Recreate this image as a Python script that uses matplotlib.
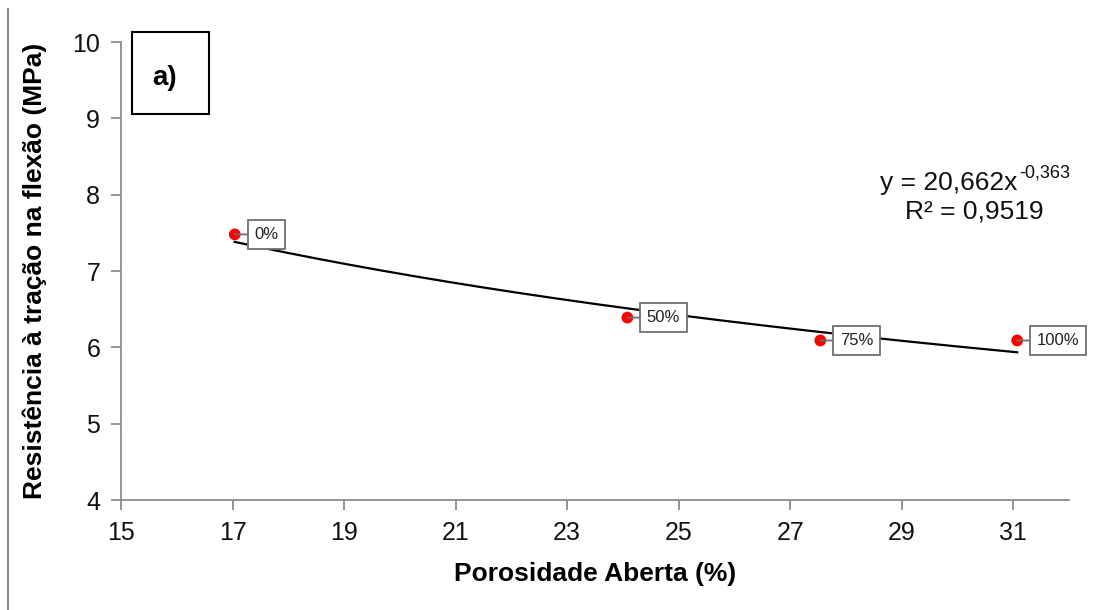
import matplotlib
matplotlib.use("Agg")
import matplotlib.pyplot as plt
from matplotlib.lines import Line2D
from matplotlib.patches import Rectangle
import numpy as np

plt.rcParams['font.family'] = ['Liberation Sans', 'DejaVu Sans']

# porosity (%) vs flexural tensile strength (MPa), by replacement level
porosidade = [17.04, 24.08, 27.54, 31.07]
resistencia = [7.48, 6.39, 6.09, 6.09]
rotulos = ['0%', '50%', '75%', '100%']

# power trend fitted to the points
coef_a = 20.662
coef_b = -0.363
r2 = 0.9519

x_ticks = [15, 17, 19, 21, 23, 25, 27, 29, 31]
y_ticks = [4, 5, 6, 7, 8, 9, 10]

fig = plt.figure(figsize=(11.18, 6.10), dpi=100)
ax = fig.add_axes([0.1082, 0.1803, 0.8480, 0.7508])

# trend line
xs = np.linspace(min(porosidade), max(porosidade), 200)
ax.plot(xs, coef_a * xs ** coef_b, color='black', lw=1.6, zorder=2)

# data points
ax.scatter(porosidade, resistencia, s=72, color='#ff0000', edgecolors='none', zorder=3)

# callout labels
for x, y, lab in zip(porosidade, resistencia, rotulos):
    ax.annotate(lab, xy=(x, y), xytext=(14, 0), textcoords='offset points',
                fontsize=12, color='#222222', va='center', ha='left',
                bbox=dict(boxstyle='square,pad=0.4', fc='white', ec='#707070', lw=1.3),
                arrowprops=dict(arrowstyle='-', color='#707070', lw=1.3,
                                shrinkA=0, shrinkB=0),
                zorder=4)

# equation of the trend, superscript drawn as its own text
a_txt = f'{coef_a:.3f}'.replace('.', ',')
b_txt = f'{coef_b:.3f}'.replace('.', ',')
r_txt = f'{r2:.4f}'.replace('.', ',')
ax.text(0.946, 0.692, f'y = {a_txt}x', transform=ax.transAxes, fontsize=19,
        ha='right', va='center', color='#111111')
ax.annotate(b_txt, xy=(0.946, 0.692), xycoords='axes fraction', xytext=(1, 7),
            textcoords='offset points', fontsize=13, ha='left', va='center',
            color='#111111')
ax.text(0.90, 0.629, f'R² = {r_txt}', transform=ax.transAxes, fontsize=19,
        ha='center', va='center', color='#111111')

# panel tag
ax.add_patch(Rectangle((0.0116, 0.843), 0.0812, 0.1788, transform=ax.transAxes,
                       fc='white', ec='black', lw=1.5, clip_on=False, zorder=5))
ax.text(0.0464, 0.922, 'a)', transform=ax.transAxes, fontsize=20, fontweight='bold',
        ha='center', va='center', zorder=6)

ax.set_xlim(15, 32)
ax.set_ylim(4, 10)
ax.set_xticks(x_ticks)
ax.set_yticks(y_ticks)
ax.tick_params(axis='both', direction='out', length=7, width=1.3, color='#8c8c8c',
               labelsize=18, pad=8, labelcolor='#111111')

for side in ['top', 'right']:
    ax.spines[side].set_visible(False)
for side in ['left', 'bottom']:
    ax.spines[side].set_color('#8c8c8c')
    ax.spines[side].set_linewidth(1.3)

ax.set_xlabel('Porosidade Aberta (%)', fontsize=19, fontweight='bold', labelpad=12)
ax.set_ylabel('Resistência à tração na flexão (MPa)', fontsize=19, fontweight='bold', labelpad=18)

# thin border line at the left edge
fig.add_artist(Line2D([0.0075, 0.0075], [0.0, 0.985], transform=fig.transFigure,
                      color='#707070', lw=1.2))

fig.savefig('out.png', dpi=100)
